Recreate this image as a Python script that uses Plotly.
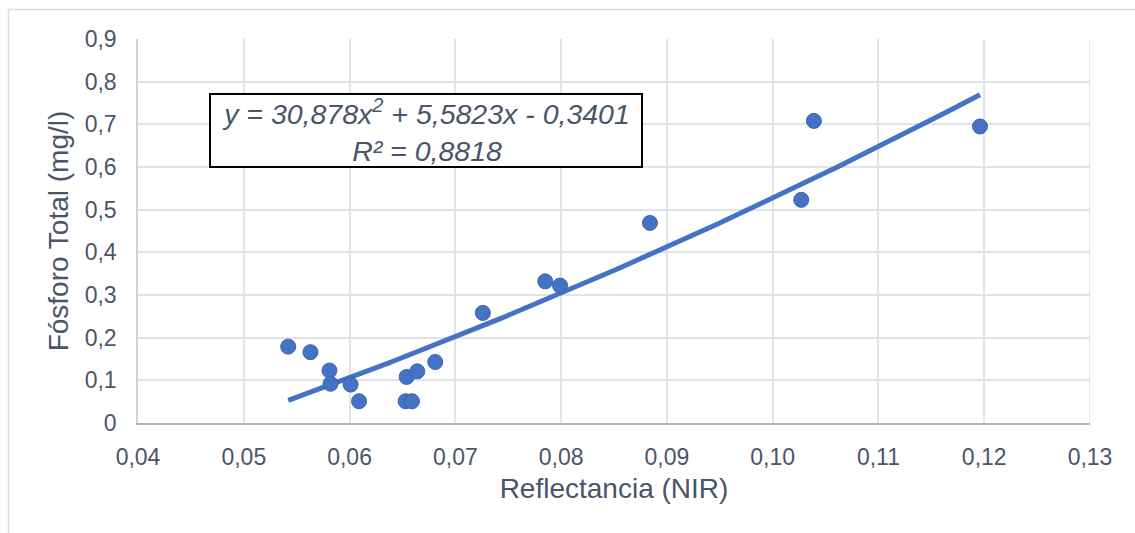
import plotly.graph_objects as go
import numpy as np

# Sample measurements: NIR reflectance vs. total phosphorus
reflectance = [0.0542, 0.0563, 0.0581, 0.0582, 0.0601, 0.0609, 0.0653, 0.0659,
               0.0654, 0.0664, 0.0681, 0.0726, 0.0785, 0.0799, 0.0884, 0.1027,
               0.1039, 0.1196]
phosphorus = [0.179, 0.166, 0.123, 0.092, 0.090, 0.051, 0.051, 0.051,
              0.108, 0.121, 0.143, 0.258, 0.332, 0.322, 0.469, 0.523,
              0.708, 0.695]

# Polynomial trendline (order 2) coefficients and fit quality
coef_a, coef_b, coef_c = 30.878, 5.5823, -0.3401
r_squared = 0.8818

x_ticks = [0.04, 0.05, 0.06, 0.07, 0.08, 0.09, 0.10, 0.11, 0.12, 0.13]
x_tick_labels = ["0,04", "0,05", "0,06", "0,07", "0,08", "0,09", "0,10", "0,11", "0,12", "0,13"]
y_ticks = [0, 0.1, 0.2, 0.3, 0.4, 0.5, 0.6, 0.7, 0.8, 0.9]
y_tick_labels = ["0", "0,1", "0,2", "0,3", "0,4", "0,5", "0,6", "0,7", "0,8", "0,9"]

W, H = 1135, 533
L, R, T, B = 138, 45, 39, 110
pw, ph = W - L - R, H - T - B

def px_x(px):
    return (px - L) / pw

def px_y(py):
    return (H - B - py) / ph

BLUE = "#4472C4"
TEXT = "#4A5569"
GRID = "#DFE3EA"
FONT = "Liberation Sans, Arial, sans-serif"

trend_x = np.linspace(min(reflectance), max(reflectance), 200)
trend_y = coef_a * trend_x ** 2 + coef_b * trend_x + coef_c

fig = go.Figure()
fig.add_trace(go.Scatter(
    x=trend_x, y=trend_y, mode="lines",
    line=dict(color=BLUE, width=5), hoverinfo="skip", showlegend=False,
))
fig.add_trace(go.Scatter(
    x=reflectance, y=phosphorus, mode="markers",
    marker=dict(color=BLUE, size=15, line=dict(color="#3A62AC", width=1)),
    showlegend=False,
))

fmt = lambda v: f"{v:.4f}".replace(".", ",")
eq_text = (f"<i>y = {coef_a:.3f}x<sup>2</sup> + {coef_b:.4f}x - {abs(coef_c):.4f}</i>".replace(".", ",")
           + f"<br><i>R² = {fmt(r_squared)}</i>")

fig.add_annotation(
    xref="paper", yref="paper", x=px_x(426), y=px_y(130),
    xanchor="center", yanchor="middle",
    width=430, height=71,
    text=eq_text, showarrow=False, align="center", valign="middle",
    font=dict(family=FONT, size=28.5, color=TEXT),
    bgcolor="white", bordercolor="black", borderwidth=2, borderpad=0,
)

# Outer chart border
fig.add_shape(type="rect", xref="paper", yref="paper",
              x0=px_x(8.5), x1=px_x(1145), y0=px_y(545), y1=px_y(9.5),
              line=dict(color="#D9DDE3", width=1.5), fillcolor="rgba(0,0,0,0)", layer="below")

fig.update_layout(
    width=W, height=H,
    margin=dict(l=L, r=R, t=T, b=B),
    paper_bgcolor="white", plot_bgcolor="white",
    font=dict(family=FONT, color=TEXT),
    xaxis=dict(
        range=[0.04, 0.13], tickvals=x_ticks, ticktext=x_tick_labels,
        showgrid=True, gridcolor=GRID, gridwidth=1.5,
        showline=True, linecolor="#AEB6C4", linewidth=2,
        mirror=False, zeroline=False, ticks="", ticklabelstandoff=12,
        tickfont=dict(size=23, color=TEXT),
        title=dict(text="Reflectancia (NIR)", font=dict(size=28, color=TEXT), standoff=10),
    ),
    yaxis=dict(
        range=[0, 0.9], tickvals=y_ticks, ticktext=y_tick_labels,
        showgrid=True, gridcolor=GRID, gridwidth=1.5,
        showline=True, linecolor="#CED4DE", linewidth=1.5,
        zeroline=False, ticks="", ticklabelstandoff=15,
        tickfont=dict(size=23, color=TEXT),
        title=dict(text="Fósforo Total (mg/l)", font=dict(size=28, color=TEXT), standoff=8),
    ),
)

# right-hand gridline at the axis limit
fig.add_shape(type="line", xref="x", yref="paper", x0=0.13, x1=0.13, y0=0, y1=1,
              line=dict(color=GRID, width=1.5), layer="below")

fig.write_html("out.html")
